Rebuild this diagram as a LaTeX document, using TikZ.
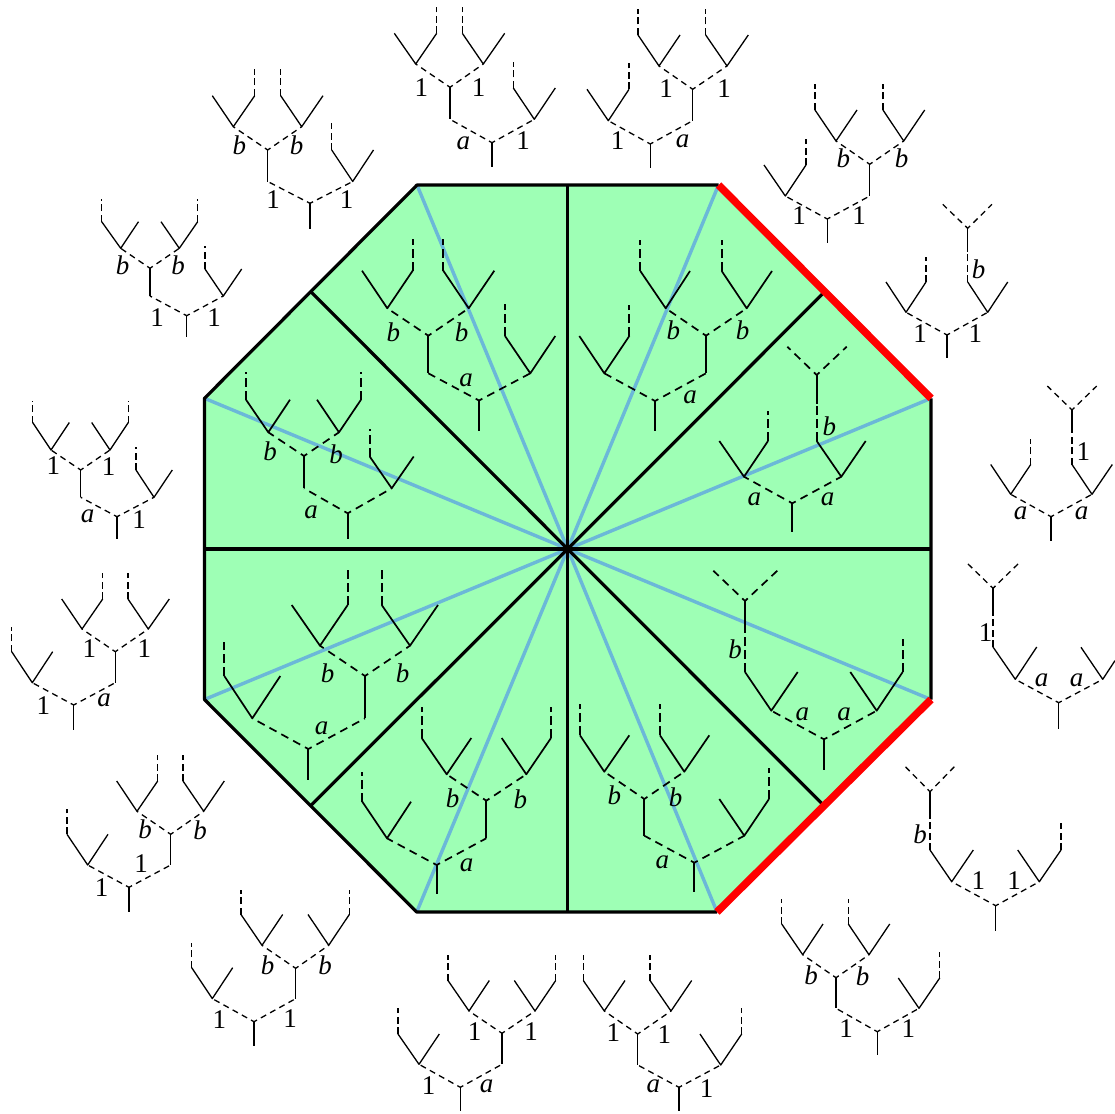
\documentclass[tikz,border=0pt]{standalone}
\usepackage{fontspec}
\setmainfont{Liberation Serif}
\definecolor{octgreen}{RGB}{158,255,181}
\definecolor{spokeblue}{RGB}{107,184,216}
\newcounter{lbc}
\def\lw{1.3pt}
\def\don{6pt}\def\doff{4.5pt}\def\dph{2.6pt}
\def\son{7pt}\def\soff{3.5pt}
\tikzset{
  treeline/.style={line width=\lw,black},
  treedash/.style={line width=\lw,black,dash pattern=on \don off \doff,dash phase=\dph},
  stubdash/.style={line width=\lw,black,dash pattern=on \son off \soff},
  lab/.style={inner sep=0pt,font=\fontsize{27}{27}\selectfont},
  edgeline/.style={line width=3.2pt,black},
  rededge/.style={line width=7.5pt,red},
  bluespoke/.style={line width=3.4pt,spokeblue},
}
% junction: root, stem end y, left child x, right child x, child y
\newcommand{\Yj}[6]{%
  \draw[treeline] (#1,#2) -- (#1,#3);
  \draw[treedash] (#1,#2) -- (#4,#6);
  \draw[treedash] (#1,#2) -- (#5,#6);}
% vee: vertex x,y; arm-left x; arm-right x; arm top y; stub top y
\newcommand{\VL}[6]{%
  \draw[treeline,line join=round] (#3,#5) -- (#1,#2) -- (#4,#5);
  \draw[stubdash] (#3,#5) -- (#3,#6);}
\newcommand{\VR}[6]{%
  \draw[treeline,line join=round] (#3,#5) -- (#1,#2) -- (#4,#5);
  \draw[stubdash] (#4,#5) -- (#4,#6);}
\newcommand{\Lb}[3]{\stepcounter{lbc}\node[lab] (lab\arabic{lbc}) at (#1,#2) {#3};}
\newcommand{\Lbi}[3]{\stepcounter{lbc}\node[lab] (lab\arabic{lbc}) at (#1,#2) {\itshape #3};}
\begin{document}
\begin{tikzpicture}[x=1pt,y=-1pt]
\useasboundingbox (0,0) rectangle (1115,1113);
\coordinate (C) at (567.7,549);
\coordinate (A1) at (417,185);
\coordinate (A2) at (718.5,185);
\coordinate (A3) at (931,398.3);
\coordinate (A4) at (931,699.5);
\coordinate (A5) at (717,912);
\coordinate (A6) at (416.7,912);
\coordinate (A7) at (204.5,699.5);
\coordinate (A8) at (204.5,398.3);
\coordinate (M1) at (567.7,185);
\coordinate (M2) at (824.7,291.7);
\coordinate (M3) at (931,549);
\coordinate (M4) at (824,805.7);
\coordinate (M5) at (567.7,912);
\coordinate (M6) at (310.6,805.7);
\coordinate (M7) at (204.5,549);
\coordinate (M8) at (310.8,291.7);
\fill[octgreen] (A1)--(A2)--(A3)--(A4)--(A5)--(A6)--(A7)--(A8)--cycle;
\foreach \v in {A1,A2,A3,A4,A5,A6,A7,A8} \draw[bluespoke] (C) -- (\v);
\foreach \v in {M1,M2,M3,M4,M5,M6,M7,M8} \draw[edgeline] (C) -- (\v);
\draw[edgeline,line join=round] (A3)--(A4) (A5)--(A6)--(A7)--(A8)--(A1)--(A2);
\draw[rededge] (A2)--(A3);
\draw[rededge] (A4)--(A5);

%%% outer trees
% O1
\Yj{310}{203.3}{229.3}{267.7}{352.7}{181.5}
\Yj{267.7}{150}{181.5}{233.3}{301.7}{126.7}
\VR{233.3}{126.7}{212.3}{254.7}{95.7}{69}
\VL{301.7}{126.7}{280.7}{323}{95.7}{69}
\VL{352.7}{181.5}{331.7}{373.5}{150}{123.3}
\Lbi{239.3}{145}{b}\Lbi{296.7}{145}{b}\Lb{273}{200}{1}\Lb{346.7}{200}{1}
% O2
\Yj{186.7}{315.7}{337.3}{150}{223.3}{296}
\Yj{150}{268.3}{296}{120.7}{179.3}{248.3}
\VL{120.7}{248.3}{101.7}{138.5}{221.7}{199.3}
\VR{179.3}{248.3}{161}{197.7}{221.7}{199.3}
\VL{223.3}{296}{205}{241.7}{269}{246}
\Lbi{122.7}{265}{b}\Lbi{178}{265.7}{b}\Lb{157}{317.3}{1}\Lb{214}{317.3}{1}
% O3
\Yj{492}{142.7}{167.3}{450}{534.3}{119.3}
\Yj{450}{87.3}{119.3}{415.7}{483.3}{64}
\VR{415.7}{64}{394.3}{436.7}{33.3}{6.7}
\VL{483.3}{64}{462.3}{504.7}{33.3}{6.7}
\VL{534.3}{119.3}{513.3}{555.3}{88}{61.7}
\Lb{421.3}{87.3}{1}\Lb{478.7}{87.3}{1}\Lbi{463.3}{143.3}{a}\Lb{523}{141}{1}
% O4
\Yj{650.3}{144}{168.3}{608.3}{692.7}{120.7}
\Yj{692.7}{89.3}{120.7}{659}{727}{66}
\VL{659}{66}{638}{680}{35}{9.3}
\VL{727}{66}{705.7}{748.3}{35}{9.3}
\VR{608.3}{120.7}{587}{629}{89.3}{63.3}
\Lb{666}{88.3}{1}\Lb{724}{88.3}{1}\Lb{617.7}{141}{1}\Lbi{682.7}{141}{a}
% O5
\Yj{827.3}{219}{243.3}{785.3}{869.7}{196}
\Yj{869.7}{164.3}{196}{836}{903.7}{141}
\VL{836}{141}{815}{857}{110}{84.3}
\VL{903.7}{141}{883}{924.7}{110}{84.3}
\VR{785.3}{196}{764}{806}{165}{139}
\Lbi{843.3}{158.3}{b}\Lbi{901.7}{158.3}{b}\Lb{799}{215.7}{1}\Lb{859}{215.7}{1}
% O6
\Yj{947}{335}{358.3}{906}{987.7}{312.3}
\VR{906}{312.3}{886}{926}{282}{257.3}
\VL{987.7}{312.3}{967.7}{1007.7}{282}{251.7}
\Yj{967.7}{228.3}{251.7}{942.7}{992}{204.3}
\Lbi{978.7}{269.3}{b}\Lb{920}{333.3}{1}\Lb{975.3}{333.3}{1}
% O7
\Yj{1051}{516.7}{540.7}{1010.7}{1092}{494.3}
\VR{1010.7}{494.3}{990.7}{1030.7}{464.5}{439.3}
\VL{1092}{494.3}{1072}{1112.3}{464.5}{433.3}
\Yj{1072}{410}{433.3}{1047.3}{1096.7}{386}
\Lbi{1020.7}{513.3}{a}\Lbi{1081.7}{513.3}{a}\Lb{1083.3}{451.7}{1}
% O8
\Yj{1058.7}{702.7}{729}{1015.3}{1102.7}{679.3}
\VL{1015.3}{679.3}{993}{1036.7}{647}{615}
\Yj{993}{588.3}{615}{966.7}{1019.3}{562.7}
\draw[treeline,line join=round] (1081,647.3) -- (1102.7,679.3) -- (1115,660.6);
\Lb{985.7}{632.3}{1}\Lbi{1041.7}{680.7}{a}\Lbi{1076.7}{680.7}{a}
% O9
\Yj{995.7}{905.7}{931.3}{951.7}{1039.3}{881.7}
\VL{951.7}{881.7}{930}{973.3}{850}{816.7}
\VR{1039.3}{881.7}{1017.7}{1061}{850}{822.7}
\Yj{930}{791.7}{816.7}{903.7}{956}{765}
\Lbi{920}{834}{b}\Lb{978.3}{880.7}{1}\Lb{1014}{880.7}{1}
% O10
\Yj{877.3}{1031.7}{1055}{836}{919}{1008.3}
\Yj{836}{977.7}{1008.3}{802.7}{869}{954.7}
\VL{802.7}{954.7}{781.7}{823}{924}{899}
\VL{869}{954.7}{848.3}{889.7}{924}{899}
\VR{919}{1008.3}{898.3}{939.7}{978}{952.3}
\Lbi{811}{975}{b}\Lbi{862.7}{976.7}{b}\Lb{846}{1028.3}{1}\Lb{908.3}{1028.3}{1}
% O11
\Yj{679}{1087.3}{1111}{637.7}{720.7}{1065}
\Yj{637.7}{1034}{1065}{604.3}{671}{1011}
\VL{604.3}{1011}{583.3}{625}{980.5}{955.3}
\VL{671}{1011}{650}{691.7}{980.5}{955.3}
\VR{720.7}{1065}{700}{741.7}{1034}{1008.3}
\Lb{613.3}{1032.3}{1}\Lb{664.3}{1035}{1}\Lbi{653.3}{1086.7}{a}\Lb{706.7}{1088.3}{1}
% O12
\Yj{460.3}{1087.3}{1111}{419}{502}{1064.3}
\Yj{502}{1033.3}{1064.3}{469}{535}{1011}
\VL{469}{1011}{448}{489.3}{980.5}{955.3}
\VR{535}{1011}{514.3}{555.7}{980.5}{955.3}
\VL{419}{1064.3}{398}{439.3}{1034}{1008.3}
\Lb{474.7}{1031.7}{1}\Lb{531}{1031.7}{1}\Lb{428.7}{1086}{1}\Lbi{486.7}{1086}{a}
% O13
\Yj{254}{1021.7}{1045.7}{212.3}{295.7}{998.6}
\Yj{295.7}{968.3}{998.6}{262}{328.7}{945.3}
\VL{262}{945.3}{241}{282.7}{914.5}{890}
\VR{328.7}{945.3}{308}{349.3}{914.5}{890}
\VL{212.3}{998.6}{191.7}{232.7}{967.7}{942.7}
\Lbi{267.7}{965}{b}\Lbi{325}{965}{b}\Lb{219.3}{1020}{1}\Lb{290}{1018.3}{1}
% O14
\Yj{129}{887.3}{911.7}{87.7}{170.7}{865}
\Yj{170.7}{834.3}{865}{137}{203.7}{811.3}
\VR{137}{811.3}{116.7}{157.7}{781}{755}
\VL{203.7}{811.3}{183}{224.3}{781}{755}
\VL{87.7}{865}{67}{108}{834.3}{809}
\Lbi{145}{829.3}{b}\Lbi{200}{830}{b}\Lb{141}{864}{1}\Lb{101.7}{887.3}{1}
% O15
\Yj{73.7}{705}{730}{32.3}{115.3}{682.7}
\Yj{115.3}{651.7}{682.7}{82}{148.3}{629}
\VR{82}{629}{61.7}{102.7}{599}{573.3}
\VL{148.3}{629}{128}{169.3}{599}{573.3}
\VL{32.3}{682.7}{11.7}{52.7}{651.7}{626.7}
\Lb{89.3}{648.3}{1}\Lb{144.3}{648.3}{1}\Lb{43.3}{705.7}{1}\Lbi{104}{700.7}{a}
% O16
\Yj{117}{516.7}{539}{80.7}{154}{497.3}
\Yj{80.7}{470}{497.3}{51}{110}{450}
\VL{51}{450}{32.7}{69.3}{422.5}{400.7}
\VR{110}{450}{91.7}{128.3}{422.5}{400.7}
\VL{154}{497.3}{136}{172.3}{470}{447.3}
\Lb{53.3}{465.7}{1}\Lb{108.7}{466.7}{1}\Lbi{87.7}{516}{a}\Lb{139}{520}{1}

%%% inner trees
\def\lw{1.7pt}
\def\don{8pt}\def\doff{5.5pt}\def\dph{4.2pt}
\def\son{9pt}\def\soff{4pt}
% I1
\Yj{479}{400.5}{431}{428.3}{530.3}{373.3}
\Yj{428.3}{335.7}{373.3}{387.3}{468.7}{308.3}
\VR{387.3}{308.3}{362}{412.7}{270.7}{239.3}
\VL{468.7}{308.3}{443.3}{494.3}{270.7}{239.3}
\VL{530.3}{373.3}{505}{555.3}{336}{304.3}
\Lbi{393.3}{332.7}{b}\Lbi{461.7}{332.7}{b}\Lbi{466}{380}{a}
% I2
\Yj{655}{401}{431}{604.3}{706}{373.3}
\Yj{706}{335.7}{373.3}{665.7}{746.7}{308.3}
\VL{665.7}{308.3}{640.3}{690}{271}{240}
\VL{746.7}{308.3}{721.7}{772}{271}{240}
\VR{604.3}{373.3}{579.3}{629.3}{336}{305}
\Lbi{673.3}{330}{b}\Lbi{742.7}{330}{b}\Lbi{690}{397.3}{a}
% I3
\Yj{792.3}{503.3}{532.3}{744}{841.3}{476.7}
\VR{744}{476.7}{719.3}{768}{441}{411}
\VL{841.3}{476.7}{816.7}{865.7}{441}{404.3}
\Yj{816.7}{375}{404.3}{787.3}{846.7}{346.7}
\Lbi{829.3}{426.7}{b}\Lbi{754.3}{499.3}{a}\Lbi{827.7}{499.3}{a}
% I4
\Yj{824}{739.3}{770}{771.3}{876.7}{710.7}
\VL{771.3}{710.7}{745}{797.7}{672}{632.3}
\VR{876.7}{710.7}{850.3}{902.7}{672}{639.3}
\Yj{745}{601}{632.3}{713.3}{777.3}{570.7}
\Lbi{735}{649.3}{b}\Lbi{802.3}{714}{a}\Lbi{844}{714}{a}
% I5
\Yj{694.3}{862.7}{892.3}{644.3}{744.3}{835.7}
\Yj{644.3}{799}{835.7}{604.3}{684.3}{771.7}
\VL{604.3}{771.7}{580}{629.3}{735.3}{704.3}
\VL{684.3}{771.7}{660}{709.3}{735.3}{704.3}
\VR{744.3}{835.7}{719.3}{769}{799}{768.3}
\Lbi{614.3}{795.7}{b}\Lbi{675.7}{797.3}{b}\Lbi{662.3}{862.3}{a}
% I6
\Yj{436.7}{865}{894.3}{387}{486.3}{838.3}
\Yj{486.3}{800.7}{838.3}{446.7}{526.3}{774.3}
\VL{446.7}{774.3}{421.7}{471.3}{738}{706.7}
\VR{526.3}{774.3}{501.7}{551}{738}{706.7}
\VL{387}{838.3}{362.3}{411}{801.7}{771.7}
\Lbi{452.7}{798.3}{b}\Lbi{520.3}{799.3}{b}\Lbi{466.7}{865}{a}
% I7
\Yj{308.3}{749}{780}{252.3}{365}{718.3}
\Yj{365}{676}{718.3}{320}{410}{645.7}
\VR{320}{645.7}{291.7}{347.7}{605}{570}
\VL{410}{645.7}{381.7}{438}{605}{570}
\VL{252.3}{718.3}{224.3}{280.3}{676}{642.3}
\Lbi{327.7}{673.3}{b}\Lbi{402.7}{673.3}{b}\Lbi{321.7}{728.3}{a}
% I8
\Yj{347.7}{513.3}{539}{304}{391.7}{488.3}
\Yj{304}{456}{488.3}{268.3}{339}{432.3}
\VL{268.3}{432.3}{246}{290}{399.7}{372}
\VR{339}{432.3}{317}{361}{399.7}{372}
\VL{391.7}{488.3}{369.7}{413.7}{456.5}{429.3}
\Lbi{270}{451.7}{b}\Lbi{336}{454}{b}\Lbi{311}{512.3}{a}
\end{tikzpicture}
\end{document}
